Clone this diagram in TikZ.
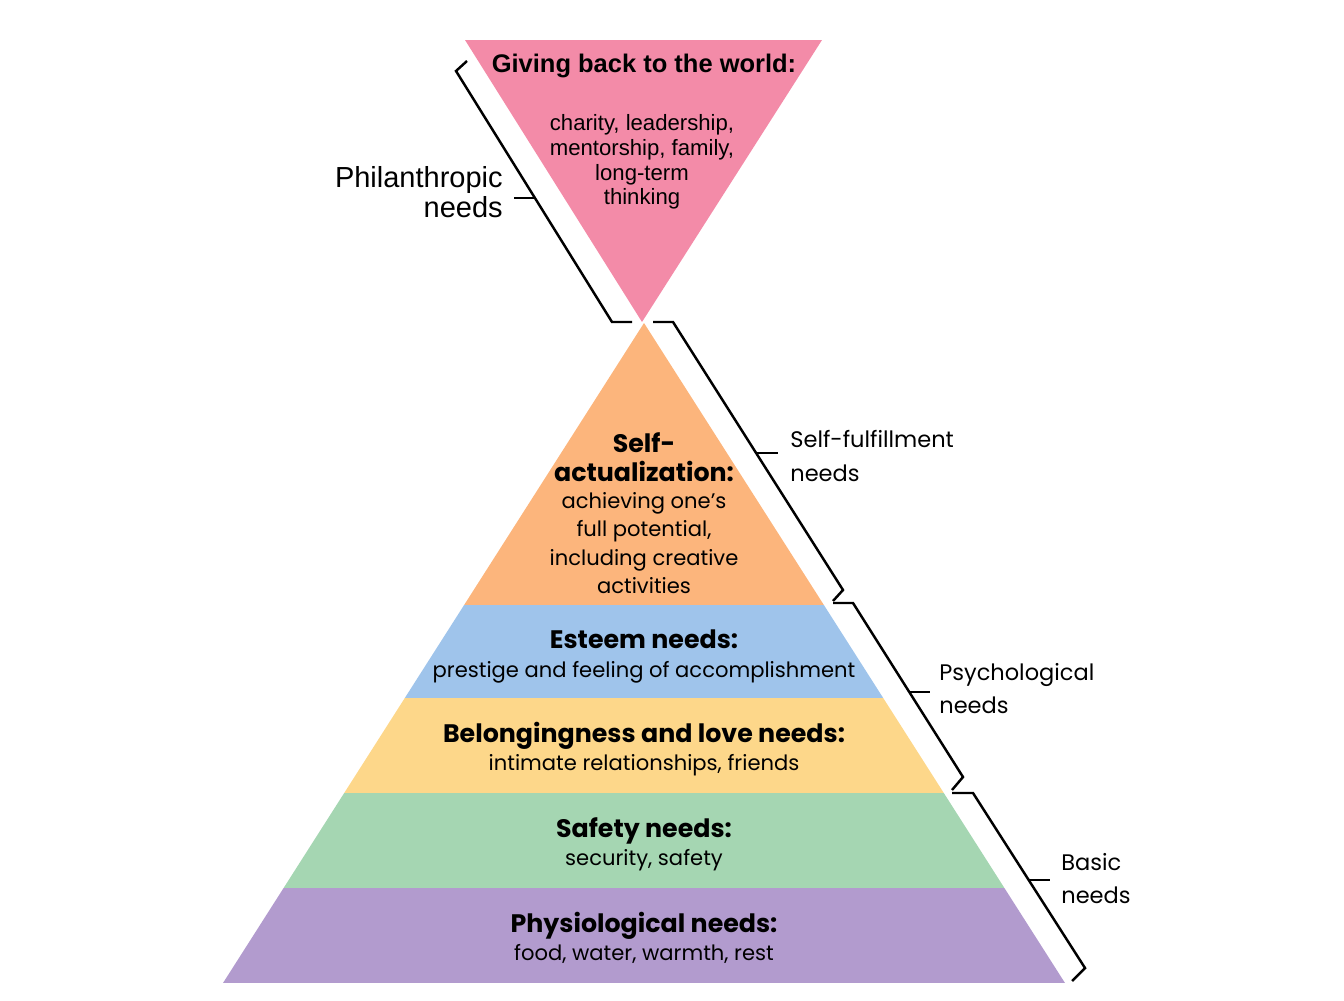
\documentclass[tikz,border=0pt]{standalone}
\usepackage{fontspec}
\usepackage{tikz}
\usetikzlibrary{positioning}
\newfontfamily\arialfont{Liberation Sans}
\newfontfamily\futfont{Poppins}
\definecolor{givecol}{RGB}{243,139,168}
\definecolor{selfcol}{RGB}{252,181,124}
\definecolor{esteemcol}{RGB}{159,196,235}
\definecolor{lovecol}{RGB}{253,215,138}
\definecolor{safecol}{RGB}{165,214,178}
\definecolor{physcol}{RGB}{178,155,206}

\begin{document}
\begin{tikzpicture}[x=0.2mm,y=-0.2mm,
givehd/.style={font=\arialfont\bfseries\fontsize{14.5}{17}\selectfont,inner sep=0,anchor=base},
givetx/.style={font=\arialfont\fontsize{12.6}{14.05}\selectfont,align=center,inner sep=0},
philtx/.style={font=\arialfont\fontsize{16.5}{17.07}\selectfont,align=right,inner sep=0,anchor=east},
lvlhd/.style={font=\futfont\bfseries\fontsize{14.4}{16.4}\selectfont,align=center,inner sep=0},
lvltx/.style={font=\futfont\fontsize{12}{16.2}\selectfont,align=center,inner sep=0},
grptx/.style={font=\futfont\fontsize{12.8}{18.8}\selectfont,align=left,inner sep=0,anchor=west},
brace/.style={line width=1.4pt}]
\useasboundingbox (0,0) rectangle (1344,1000);

\fill[givecol] (465,40) -- (822,40) -- (642,322) -- cycle;
\begin{scope}
\clip (644,323) -- (1065,983) -- (223,983) -- cycle;
\fill[selfcol] (200,300) rectangle (1100,605);
\fill[esteemcol] (200,605) rectangle (1100,698);
\fill[lovecol] (200,698) rectangle (1100,793);
\fill[safecol] (200,793) rectangle (1100,888);
\fill[physcol] (200,888) rectangle (1100,983);
\end{scope}

\node[givehd] (givehd) at (644,72) {Giving back to the world:};
\node[givetx] (givetx) at (642,162) {charity, leadership,\\mentorship, family,\\long-term\\thinking};
\node[philtx] (phil) at (503,192.5) {Philanthropic\\needs};

\node[lvlhd] (selfhd) at (644,457) {Self-\\actualization:};
\node[lvltx] (selftx) at (644,543) {achieving one’s\\full potential,\\including creative\\activities};
\node[lvlhd,anchor=base] (esteemhd) at (644,648) {Esteem needs:};
\node[lvltx,anchor=base] (esteemtx) at (644,677) {prestige and feeling of accomplishment};
\node[lvlhd,anchor=base] (lovehd) at (644,742) {Belongingness and love needs:};
\node[lvltx,anchor=base] (lovetx) at (644,770) {intimate relationships, friends};
\node[lvlhd,anchor=base] (safehd) at (644,837) {Safety needs:};
\node[lvltx,anchor=base] (safetx) at (644,865) {security, safety};
\node[lvlhd,anchor=base] (physhd) at (644,932) {Physiological needs:};
\node[lvltx,anchor=base] (phystx) at (644,960) {food, water, warmth, rest};

\node[grptx] (selfgrp) at (790,456) {Self-fulfillment\\needs};
\node[grptx] (psychgrp) at (939,689) {Psychological\\needs};
\node[grptx] (basicgrp) at (1061,879) {Basic\\needs};

\draw[brace] (467,61) -- (456,71) -- (612,322) -- (632,322);
\draw[brace] (535,198) -- (514,198);
\draw[brace] (653,322) -- (673,322) -- (843,590) -- (833,601);
\draw[brace] (756,453) -- (778,453);
\draw[brace] (833,603) -- (853,603) -- (963,777) -- (952,790);
\draw[brace] (910,692) -- (930,692);
\draw[brace] (952,793) -- (973,793) -- (1085,968) -- (1072,981);
\draw[brace] (1029,880) -- (1050,880);
\end{tikzpicture}
\end{document}
